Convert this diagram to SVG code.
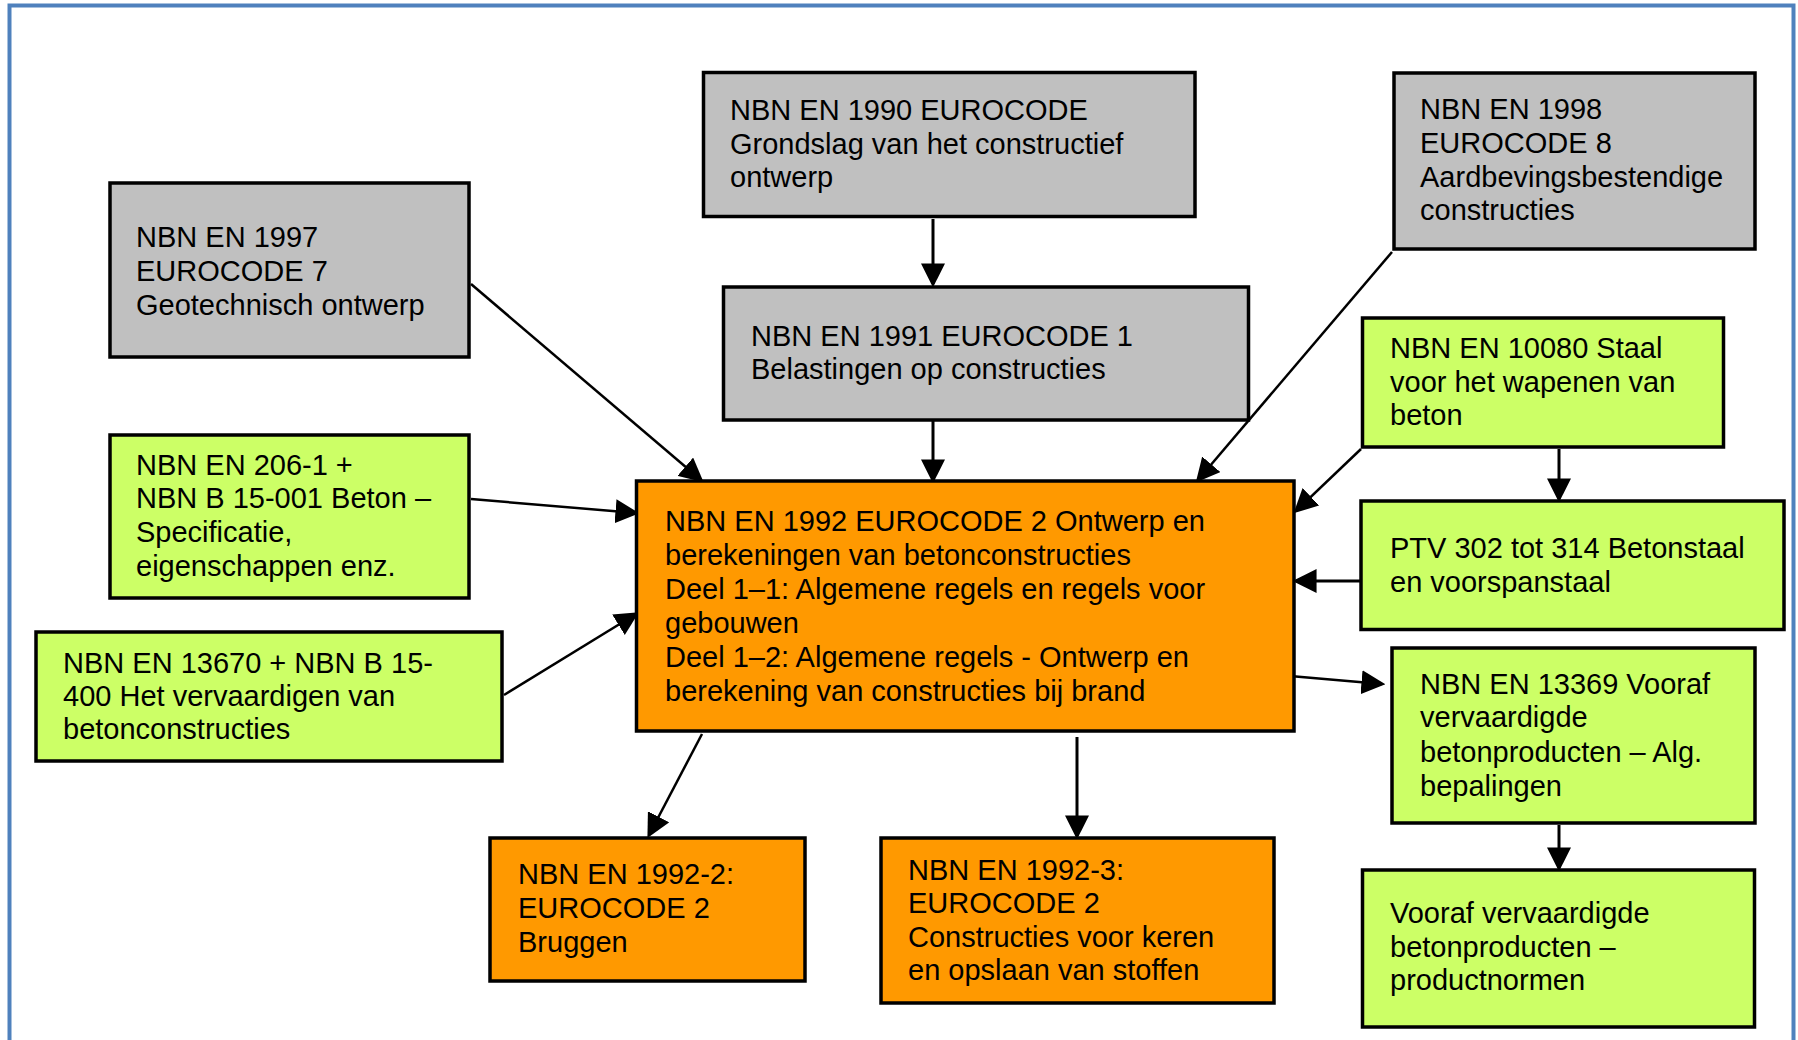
<svg xmlns="http://www.w3.org/2000/svg" width="1798" height="1040" viewBox="0 0 1798 1040">
<style>
.box{stroke:#000;stroke-width:3.5}
.grey{fill:#c0c0c0}
.green{fill:#ccff66}
.orange{fill:#ff9900}
text{font-family:"Liberation Sans",Arial,sans-serif;font-size:29px;fill:#000}
.conn line{stroke:#000;stroke-width:2.5;fill:none;marker-end:url(#arr)}
.conn line.thick{stroke-width:3}
</style>
<defs>
<marker id="arr" markerUnits="userSpaceOnUse" markerWidth="24" markerHeight="24" viewBox="0 0 21 21" refX="18" refY="10.5" orient="auto">
<path d="M0,0 L21,10.5 L0,21 z" fill="#000"/>
</marker>
</defs>
<rect width="1798" height="1040" fill="#fff"/>
<rect x="9.5" y="5.5" width="1784" height="1060" fill="none" stroke="#4f81bd" stroke-width="4"/>

<g id="conn" class="conn">
<line class="thick" x1="933" y1="219" x2="933" y2="284"/>
<line class="thick" x1="933" y1="418" x2="933" y2="480"/>
<line x1="471" y1="284" x2="701" y2="480"/>
<line x1="471" y1="499" x2="636" y2="513"/>
<line x1="504" y1="695" x2="636" y2="614"/>
<line x1="1392" y1="252" x2="1198" y2="480"/>
<line x1="1361" y1="449" x2="1296" y2="511"/>
<line class="thick" x1="1559" y1="449" x2="1559" y2="499"/>
<line class="thick" x1="1360" y1="581" x2="1296" y2="581"/>
<line x1="1290" y1="676" x2="1382" y2="684"/>
<line class="thick" x1="1559" y1="825" x2="1559" y2="868"/>
<line x1="702" y1="734" x2="649" y2="835"/>
<line class="thick" x1="1077" y1="737" x2="1077" y2="836"/>
</g>

<g id="n1990">
<rect class="box grey" x="703.5" y="72.5" width="491.5" height="144"/>
<text x="730" y="120">NBN EN 1990 EUROCODE</text>
<text x="730" y="154">Grondslag van het constructief</text>
<text x="730" y="187">ontwerp</text>
</g>
<g id="n1998">
<rect class="box grey" x="1394" y="73" width="361" height="176"/>
<text x="1420" y="119">NBN EN 1998</text>
<text x="1420" y="153">EUROCODE 8</text>
<text x="1420" y="187">Aardbevingsbestendige</text>
<text x="1420" y="220">constructies</text>
</g>
<g id="n1997">
<rect class="box grey" x="110" y="183" width="359" height="174"/>
<text x="136" y="247">NBN EN 1997</text>
<text x="136" y="281">EUROCODE 7</text>
<text x="136" y="315">Geotechnisch ontwerp</text>
</g>
<g id="n1991">
<rect class="box grey" x="723.5" y="287" width="525" height="133"/>
<text x="751" y="346">NBN EN 1991 EUROCODE 1</text>
<text x="751" y="379">Belastingen op constructies</text>
</g>
<g id="n10080">
<rect class="box green" x="1362.5" y="318" width="361" height="129"/>
<text x="1390" y="358">NBN EN 10080 Staal</text>
<text x="1390" y="392">voor het wapenen van</text>
<text x="1390" y="425">beton</text>
</g>
<g id="n206">
<rect class="box green" x="110" y="435" width="359" height="163"/>
<text x="136" y="475">NBN EN 206-1 +</text>
<text x="136" y="508">NBN B 15-001 Beton –</text>
<text x="136" y="542">Specificatie,</text>
<text x="136" y="576">eigenschappen enz.</text>
</g>
<g id="n1992">
<rect class="box orange" x="636.5" y="481" width="657.5" height="250"/>
<text x="665" y="531">NBN EN 1992 EUROCODE 2 Ontwerp en</text>
<text x="665" y="565">berekeningen van betonconstructies</text>
<text x="665" y="599">Deel 1–1: Algemene regels en regels voor</text>
<text x="665" y="633">gebouwen</text>
<text x="665" y="667">Deel 1–2: Algemene regels - Ontwerp en</text>
<text x="665" y="701">berekening van constructies bij brand</text>
</g>
<g id="nPTV">
<rect class="box green" x="1361" y="501" width="423" height="128.5"/>
<text x="1390" y="558">PTV 302 tot 314 Betonstaal</text>
<text x="1390" y="592">en voorspanstaal</text>
</g>
<g id="n13670">
<rect class="box green" x="36" y="632" width="466" height="129"/>
<text x="63" y="673">NBN EN 13670 + NBN B 15-</text>
<text x="63" y="706">400 Het vervaardigen van</text>
<text x="63" y="739">betonconstructies</text>
</g>
<g id="n13369">
<rect class="box green" x="1392" y="648" width="363" height="175"/>
<text x="1420" y="694">NBN EN 13369 Vooraf</text>
<text x="1420" y="727">vervaardigde</text>
<text x="1420" y="762">betonproducten – Alg.</text>
<text x="1420" y="796">bepalingen</text>
</g>
<g id="n1992-2">
<rect class="box orange" x="490" y="838" width="315" height="143"/>
<text x="518" y="884">NBN EN 1992-2:</text>
<text x="518" y="918">EUROCODE 2</text>
<text x="518" y="952">Bruggen</text>
</g>
<g id="n1992-3">
<rect class="box orange" x="881" y="838" width="393" height="165"/>
<text x="908" y="880">NBN EN 1992-3:</text>
<text x="908" y="913">EUROCODE 2</text>
<text x="908" y="947">Constructies voor keren</text>
<text x="908" y="980">en opslaan van stoffen</text>
</g>
<g id="nVooraf">
<rect class="box green" x="1362.5" y="870" width="392" height="157"/>
<text x="1390" y="923">Vooraf vervaardigde</text>
<text x="1390" y="957">betonproducten –</text>
<text x="1390" y="990">productnormen</text>
</g>
</svg>
